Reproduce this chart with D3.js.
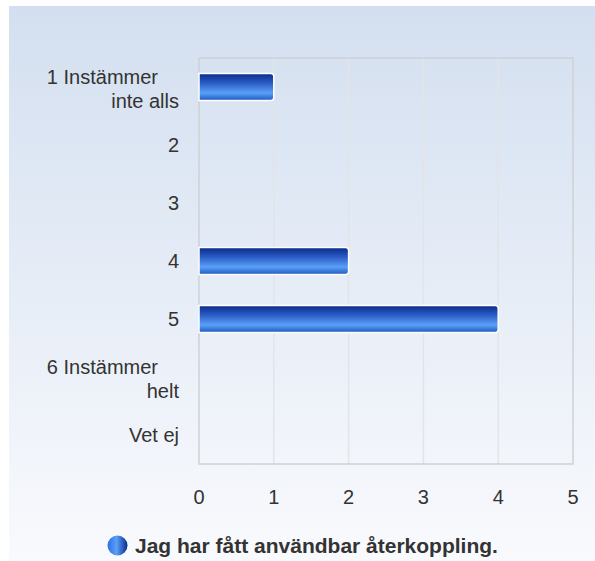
<!DOCTYPE html>
<html><head><meta charset="utf-8">
<script src="https://cdn.jsdelivr.net/npm/d3@7"></script>
<style>html,body{margin:0;padding:0;background:#fff;}svg{display:block;}</style>
</head><body>
<script>
const categories = [["1 Instämmer","inte alls"],["2"],["3"],["4"],["5"],["6 Instämmer","helt"],["Vet ej"]];
const values = [1,0,0,2,4,0,0];
const ticks = [0,1,2,3,4,5];
const seriesName = "Jag har fått användbar återkoppling.";

const W=595,H=561;
const FONT="'Liberation Sans', Arial, sans-serif";
const svg=d3.select("body").append("svg").attr("width",W).attr("height",H);
const defs=svg.append("defs");
const bg=defs.append("linearGradient").attr("id","bg").attr("x1",0).attr("y1",0).attr("x2",0).attr("y2",1);
bg.append("stop").attr("offset","0%").attr("stop-color","#d3dff0");
bg.append("stop").attr("offset","100%").attr("stop-color","#f9fafd");
const bar=defs.append("linearGradient").attr("id","bar").attr("x1",0).attr("y1",0).attr("x2",0).attr("y2",1);
[["0%","#0a2a8a"],["35%","#2a5cc4"],["72%","#5aa0f8"],["100%","#1e58c0"]].forEach(s=>bar.append("stop").attr("offset",s[0]).attr("stop-color",s[1]));
const leg=defs.append("linearGradient").attr("id","leg").attr("x1",0).attr("y1",0).attr("x2",1).attr("y2",0);
[["0%","#2c6fe0"],["45%","#5aa0f8"],["100%","#0a2b8c"]].forEach(s=>leg.append("stop").attr("offset",s[0]).attr("stop-color",s[1]));

svg.append("rect").attr("x",9).attr("y",6).attr("width",W-9).attr("height",H-6).attr("fill","url(#bg)");

const x0=199,x1=573,y0=58,y1=464;
const x=d3.scaleLinear().domain([0,5]).range([x0,x1]);
const y=d3.scaleBand().domain(d3.range(categories.length)).range([y0,y1]);

// grid
svg.append("g").selectAll("line").data(ticks.slice(1,-1)).join("line")
  .attr("x1",d=>x(d)).attr("x2",d=>x(d)).attr("y1",y0).attr("y2",y1)
  .attr("stroke","#e2e4e8").attr("stroke-width",1.5);
svg.append("rect").attr("x",x0).attr("y",y0).attr("width",x1-x0).attr("height",y1-y0)
  .attr("fill","none").attr("stroke","#cfd1d4").attr("stroke-width",1.5);

// bars
const bh=27;
const bars=svg.append("g");
values.forEach((v,i)=>{
  if(v<=0) return;
  const cy=y(i)+y.bandwidth()/2;
  const w=x(v)-x(0), r=3, top=cy-bh/2;
  const p=`M${x0},${top} H${x0+w-r} Q${x0+w},${top} ${x0+w},${top+r} V${top+bh-r} Q${x0+w},${top+bh} ${x0+w-r},${top+bh} H${x0} Z`;
  bars.append("path").attr("d",p).attr("fill","url(#bar)").attr("stroke","#ffffff").attr("stroke-width",1.5);
});

// category labels
const lab=svg.append("g").attr("font-family",FONT).attr("font-size",20).attr("fill","#333");
categories.forEach((c,i)=>{
  const cy=y(i)+y.bandwidth()/2;
  if(c.length===1){
    lab.append("text").attr("x",179).attr("y",cy).attr("dy","0.36em").attr("text-anchor","end").text(c[0]);
  } else {
    lab.append("text").attr("x",158).attr("y",cy-10).attr("dy","0.36em").attr("text-anchor","end").text(c[0]);
    lab.append("text").attr("x",179).attr("y",cy+14).attr("dy","0.36em").attr("text-anchor","end").text(c[1]);
  }
});

// x tick labels
const xa=svg.append("g").attr("font-family",FONT).attr("font-size",20).attr("fill","#333");
ticks.forEach(t=>xa.append("text").attr("x",x(t)).attr("y",497).attr("dy","0.36em").attr("text-anchor","middle").text(t));

// legend
svg.append("circle").attr("cx",117.5).attr("cy",545.5).attr("r",10).attr("fill","url(#leg)");
svg.append("text").attr("x",135).attr("y",545.5).attr("dy","0.36em").attr("font-family",FONT)
  .attr("font-size",21).attr("font-weight","bold").attr("fill","#333").text(seriesName);
</script>
</body></html>
